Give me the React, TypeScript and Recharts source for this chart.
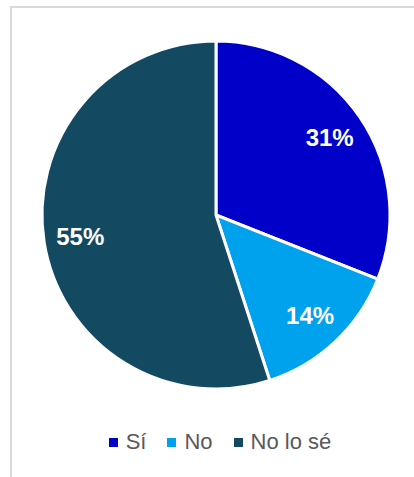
import React from "react";
import { PieChart, Pie, Cell, Legend } from "recharts";

const categories = ["Sí", "No", "No lo sé"];
const values = [31, 14, 55];
const colors = ["#0000C8", "#00A2EE", "#134A62"];

const data = categories.map((name, i) => ({ name, value: values[i] }));

const RADIAN = Math.PI / 180;

const renderLabel = (props: any) => {
  const { cx, cy, midAngle, outerRadius, value } = props;
  const r = outerRadius * 0.79;
  const x = cx + r * Math.cos(-midAngle * RADIAN);
  const y = cy + r * Math.sin(-midAngle * RADIAN);
  return (
    <text
      x={x}
      y={y}
      fill="#ffffff"
      textAnchor="middle"
      dominantBaseline="central"
      fontFamily="'Liberation Sans', Arial, sans-serif"
      fontWeight="bold"
      fontSize={24}
    >
      {`${value}%`}
    </text>
  );
};

const renderLegend = () => (
  <div
    style={{
      display: "flex",
      justifyContent: "center",
      alignItems: "center",
      gap: 21,
      fontFamily: "'Liberation Sans', Arial, sans-serif",
      fontSize: 22,
      color: "#595959",
    }}
  >
    {categories.map((c, i) => (
      <div key={c} style={{ display: "flex", alignItems: "center" }}>
        <span
          style={{
            display: "inline-block",
            width: 9,
            height: 9,
            background: colors[i],
            marginRight: 8,
          }}
        />
        <span>{c}</span>
      </div>
    ))}
  </div>
);

export default function App() {
  return (
    <div
      style={{
        position: "absolute",
        left: 0,
        top: 0,
        width: 414,
        height: 477,
        background: "#ffffff",
        overflow: "hidden",
      }}
    >
      <div
        style={{
          position: "absolute",
          left: 10,
          top: 6,
          width: 420,
          height: 480,
          borderLeft: "2px solid #d9d9d9",
          borderTop: "2px solid #d9d9d9",
          boxSizing: "border-box",
        }}
      />
      <div style={{ position: "absolute", left: 0, top: 0 }}>
        <PieChart width={414} height={477} margin={{ top: 0, right: 0, bottom: 0, left: 0 }}>
          <Pie
            data={data}
            dataKey="value"
            nameKey="name"
            cx={216}
            cy={215}
            outerRadius={174}
            startAngle={90}
            endAngle={-270}
            stroke="#ffffff"
            strokeWidth={3}
            label={renderLabel}
            labelLine={false}
            isAnimationActive={false}
          >
            {data.map((d, i) => (
              <Cell key={d.name} fill={colors[i]} />
            ))}
          </Pie>
          <Legend
            content={renderLegend}
            wrapperStyle={{ position: "absolute", top: 429, left: 13, width: 414 }}
          />
        </PieChart>
      </div>
    </div>
  );
}
